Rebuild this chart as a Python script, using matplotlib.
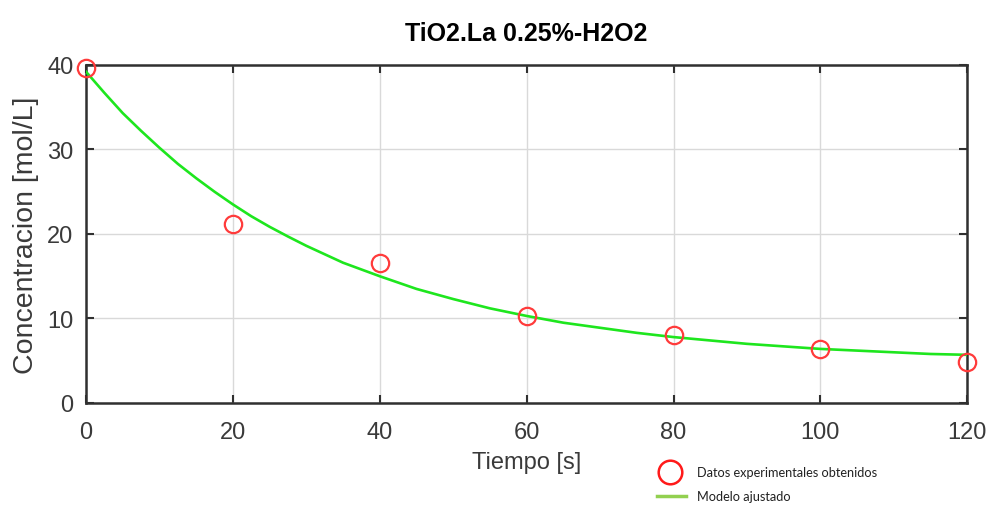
import matplotlib
matplotlib.use('Agg')
import matplotlib.pyplot as plt
from matplotlib.lines import Line2D

# datos experimentales
tiempo = [0, 20, 40, 60, 80, 100, 120]
concentracion = [39.6, 21.2, 16.6, 10.3, 8.1, 6.4, 4.9]

# modelo ajustado
t_modelo = [0, 2.5, 5, 7.5, 10, 12.5, 15, 17.5, 20, 22.5, 25, 27.5, 30, 32.5, 35, 37.5,
            40, 45, 50, 55, 60, 65, 70, 75, 80, 85, 90, 95, 100, 105, 110, 115, 120]
c_modelo = [39.2, 36.7, 34.3, 32.2, 30.2, 28.3, 26.6, 25.0, 23.5, 22.1, 20.85, 19.7,
            18.6, 17.6, 16.6, 15.8, 15.0, 13.5, 12.3, 11.2, 10.3, 9.5, 8.9, 8.3, 7.8,
            7.4, 7.0, 6.7, 6.4, 6.2, 6.0, 5.8, 5.7]

x_ticks = [0, 20, 40, 60, 80, 100, 120]
y_ticks = [0, 10, 20, 30, 40]

plt.rcParams['font.family'] = ['Liberation Sans', 'DejaVu Sans']

fig = plt.figure(figsize=(9.89, 5.06), dpi=100)
ax = fig.add_axes([0.087, 0.2016, 0.891, 0.668])

ax.plot(t_modelo, c_modelo, color='#1ee61e', linewidth=1.9, zorder=3)
ax.plot(tiempo, concentracion, linestyle='none', marker='o', markersize=12.5,
        markerfacecolor='none', markeredgecolor='#ff3b3b', markeredgewidth=1.6,
        zorder=4, clip_on=False)

ax.set_xlim(0, 120)
ax.set_ylim(0, 40)
ax.set_xticks(x_ticks)
ax.set_yticks(y_ticks)
ax.grid(True, color='#d9d9d9', linewidth=1)
ax.set_axisbelow(True)

for s in ax.spines.values():
    s.set_color('#303030')
    s.set_linewidth(1.8)
ax.tick_params(direction='in', length=6, width=1.5, color='#303030',
               top=True, right=True, labelsize=17, labelcolor='#3a3a3a')
ax.tick_params(axis='x', pad=13)
ax.tick_params(axis='y', pad=9)

ax.set_title('TiO2.La 0.25%-H2O2', fontsize=18, fontweight='bold', pad=18)
ax.set_xlabel('Tiempo [s]', fontsize=17, color='#3a3a3a', labelpad=6)
ax.set_ylabel('Concentracion [mol/L]', fontsize=20.5, color='#3a3a3a', labelpad=6)

# leyenda debajo del grafico
fig.add_artist(Line2D([0.6775], [0.0652], transform=fig.transFigure,
                      marker='o', markersize=17, markerfacecolor='none',
                      markeredgecolor='#ff1a1a', markeredgewidth=1.8))
fig.add_artist(Line2D([0.6643, 0.6936], [0.0178, 0.0178], transform=fig.transFigure,
                      color='#92d050', linewidth=2.5))
fig.text(0.7048, 0.0652, 'Datos experimentales obtenidos', fontsize=9.2,
         family='Lato', va='center', ha='left', color='#222222')
fig.text(0.7048, 0.0178, 'Modelo ajustado', fontsize=9.2,
         family='Lato', va='center', ha='left', color='#222222')

fig.savefig('out.png', dpi=100)
